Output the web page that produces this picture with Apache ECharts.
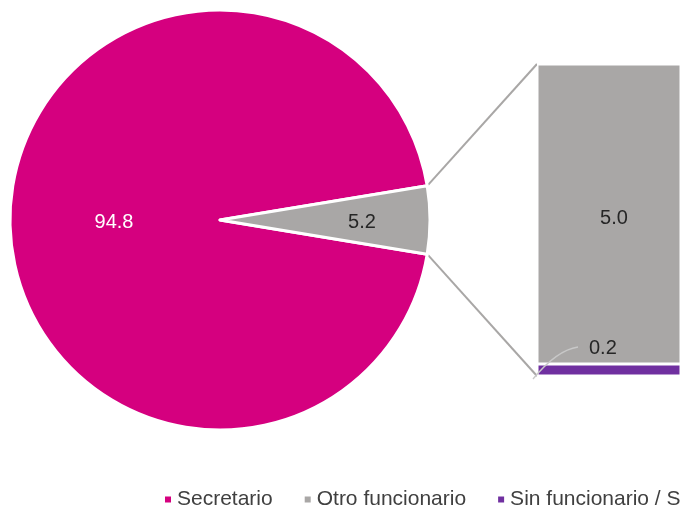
<!DOCTYPE html>
<html>
<head>
<meta charset="utf-8">
<script src="https://cdn.jsdelivr.net/npm/echarts@6/dist/echarts.min.js"></script>
<style>
  html, body { margin: 0; padding: 0; background: #fff; }
  #chart { width: 681px; height: 508px; }
</style>
</head>
<body>
<div id="chart"></div>
<script>
// datos del gráfico
var pieNames = ['Secretario', 'Otro funcionario'];
var pieValues = [94.8, 5.2];
var barNames = ['Sin funcionario / Sin información', 'Otro funcionario'];
var barValues = [0.2, 5.0];
var colors = { magenta: '#D5007F', gris: '#A9A7A6', morado: '#7030A0' };

var chart = echarts.init(document.getElementById('chart'));

var pieTotal = pieValues[0] + pieValues[1];
var barTotal = barValues[0] + barValues[1];
var half = pieValues[1] / pieTotal * 180;
var start = pieValues[0] / pieTotal * 360 + half;

var fmt = function (p) { return Number(p.value).toFixed(1); };

var option = {
  animation: false,
  textStyle: { fontFamily: 'Liberation Sans, Arial, sans-serif' },
  legend: {
    left: 158,
    top: 484,
    width: 2000,
    icon: 'rect',
    itemWidth: 8,
    itemHeight: 8,
    itemGap: 30,
    textStyle: { fontSize: 21, color: '#404040' },
    data: [
      { name: 'Secretario', itemStyle: { color: colors.magenta } },
      { name: 'Otro funcionario', itemStyle: { color: colors.gris } },
      { name: barNames[0], itemStyle: { color: colors.morado } }
    ]
  },
  grid: { left: 537, top: 64, width: 154, height: 312 },
  xAxis: { type: 'category', data: [''], show: false },
  yAxis: { type: 'value', min: 0, max: barTotal, show: false },
  series: [
    {
      type: 'pie',
      center: [220, 220],
      radius: 210,
      startAngle: start,
      clockwise: true,
      itemStyle: { borderColor: '#fff', borderWidth: 3 },
      label: {
        show: true,
        position: 'inner',
        fontSize: 20,
        formatter: fmt
      },
      labelLine: { show: false },
      labelLayout: function (p) {
        return { dy: 1, dx: p.dataIndex === 1 ? 17 : 1 };
      },
      data: [
        { name: pieNames[0], value: pieValues[0], itemStyle: { color: colors.magenta }, label: { color: '#fff' } },
        { name: pieNames[1], value: pieValues[1], itemStyle: { color: colors.gris }, label: { color: '#262626' } }
      ]
    },
    {
      type: 'bar',
      name: barNames[0],
      stack: 'z',
      barWidth: '100%',
      itemStyle: { color: colors.morado, borderColor: '#fff', borderWidth: 1.5 },
      label: {
        show: true,
        position: 'insideBottomLeft',
        fontSize: 20,
        color: '#262626',
        formatter: fmt
      },
      labelLayout: { x: 589, y: 348, align: 'left', verticalAlign: 'middle' },
      data: [barValues[0]]
    },
    {
      type: 'bar',
      name: barNames[1],
      stack: 'z',
      barWidth: '100%',
      itemStyle: { color: colors.gris, borderColor: '#fff', borderWidth: 1.5 },
      label: {
        show: true,
        position: 'inside',
        offset: [5, 4],
        fontSize: 20,
        color: '#262626',
        formatter: fmt
      },
      data: [barValues[1]]
    }
  ]
};
chart.setOption(option);

// líneas que unen el sector con la barra, y guía de la etiqueta 0.2
var rad = half * Math.PI / 180;
var pTop = [220 + 210 * Math.cos(rad), 220 - 210 * Math.sin(rad)];
var pBot = [220 + 210 * Math.cos(rad), 220 + 210 * Math.sin(rad)];
var bTop = chart.convertToPixel({ gridIndex: 0 }, [0, barTotal]);
var bBot = chart.convertToPixel({ gridIndex: 0 }, [0, 0]);
var bMid = chart.convertToPixel({ gridIndex: 0 }, [0, barValues[0]]);
var leftX = 537;
chart.setOption({
  graphic: [
    { type: 'line', shape: { x1: pTop[0], y1: pTop[1], x2: leftX, y2: bTop[1] }, style: { stroke: '#A9A7A6', lineWidth: 2 } },
    { type: 'line', shape: { x1: pBot[0], y1: pBot[1], x2: leftX, y2: bBot[1] }, style: { stroke: '#A9A7A6', lineWidth: 2 } },
    {
      type: 'bezierCurve',
      shape: {
        x1: leftX - 4, y1: bBot[1] + 3,
        x2: leftX + 41, y2: bMid[1] - 17,
        cpx1: leftX + 20, cpy1: bMid[1] - 14
      },
      style: { stroke: '#C8C8C8', lineWidth: 1.3, fill: null },
      z: 100
    }
  ]
});
</script>
</body>
</html>
